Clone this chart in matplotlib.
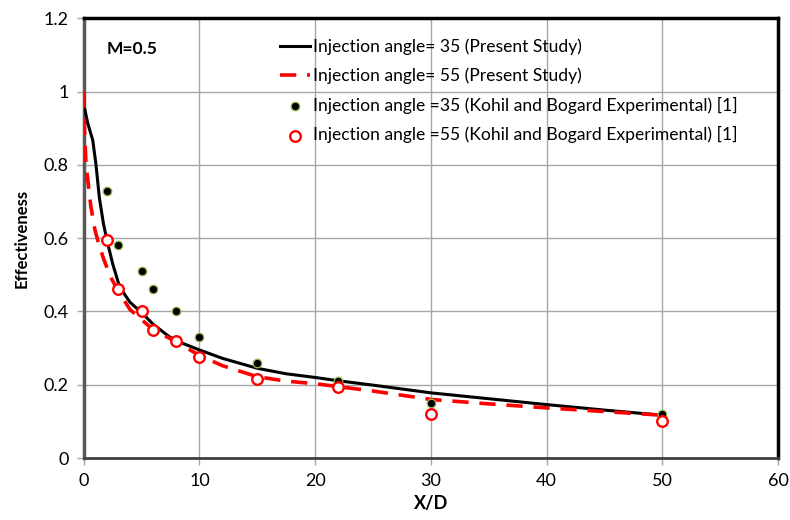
import matplotlib.pyplot as plt

plt.rcParams['font.family'] = ['Lato', 'DejaVu Sans']

# ======================
# Data
# ======================

# present study, injection angle 35
x_35 = [0, 0.35, 0.78, 1.06, 1.35, 1.7, 2.0, 2.5, 3.1, 4.0, 5.0, 6.0, 7.4, 8.0,
        10, 12, 15, 17.5, 20, 22, 25, 30, 35, 40, 45, 50]
eff_35 = [0.965, 0.913, 0.867, 0.80, 0.71, 0.64, 0.595, 0.53, 0.467, 0.425, 0.397,
          0.365, 0.331, 0.32, 0.295, 0.272, 0.245, 0.23, 0.22, 0.211, 0.199,
          0.178, 0.162, 0.146, 0.131, 0.117]

# present study, injection angle 55
x_55 = [0, 0.06, 0.2, 0.6, 0.95, 1.2, 1.7, 2.3, 3.0, 4.0, 5.0, 6.0, 8.0,
        10, 12, 15, 17.5, 20, 22, 25, 30, 35, 40, 45, 50]
eff_55 = [1.0, 0.9, 0.8, 0.69, 0.625, 0.595, 0.545, 0.495, 0.455, 0.405, 0.378,
          0.35, 0.317, 0.28, 0.252, 0.222, 0.21, 0.203, 0.195, 0.183, 0.16,
          0.148, 0.137, 0.127, 0.117]

# Kohli and Bogard experimental
x_exp = [2, 3, 5, 6, 8, 10, 15, 22, 30, 50]
exp_35 = [0.73, 0.58, 0.51, 0.46, 0.40, 0.33, 0.26, 0.21, 0.15, 0.12]
exp_55 = [0.595, 0.46, 0.40, 0.35, 0.32, 0.275, 0.215, 0.193, 0.12, 0.10]

# ======================
# Plot
# ======================

fig = plt.figure(figsize=(7.9, 5.2), dpi=100)
ax = fig.add_axes([0.106, 0.119, 0.879, 0.846])

ax.plot(x_35, eff_35, color="black", linewidth=2.2, solid_joinstyle="round",
        label="Injection angle= 35 (Present Study)", zorder=3)
ax.plot(x_55, eff_55, color="red", linewidth=2.6, dashes=(4.5, 3),
        label="Injection angle= 55 (Present Study)", zorder=3)
ax.scatter(x_exp, exp_35, s=38, color="black", edgecolor="#9bbb59",
           linewidth=0.9, zorder=4,
           label="Injection angle =35 (Kohil and Bogard Experimental) [1]")
ax.scatter(x_exp, exp_55, s=58, facecolor="white", edgecolor="red",
           linewidth=1.7, zorder=5,
           label="Injection angle =55 (Kohil and Bogard Experimental) [1]")

ax.set_xlim(0, 60)
ax.set_ylim(0, 1.2)
ax.set_xticks(range(0, 61, 10))
ax.set_yticks([0, 0.2, 0.4, 0.6, 0.8, 1.0, 1.2])
ax.set_yticklabels(["0", "0.2", "0.4", "0.6", "0.8", "1", "1.2"])

ax.grid(True, color="#a6a6a6", linewidth=1)
ax.set_axisbelow(True)

ax.spines["left"].set_color("#595959")
ax.spines["left"].set_linewidth(2.5)
ax.spines["bottom"].set_color("#404040")
ax.spines["bottom"].set_linewidth(2)
ax.spines["top"].set_linewidth(2.5)
ax.spines["right"].set_linewidth(2.5)

ax.tick_params(axis="both", labelsize=13, color="#a6a6a6",
               length=5, width=1, pad=6)

ax.set_xlabel("X/D", fontsize=13, fontweight="bold", labelpad=4)
ax.set_ylabel("Effectiveness", fontsize=12, fontweight="bold", labelpad=10)

ax.text(2.0, 1.115, "M=0.5", fontsize=12.5, fontweight="bold", va="center")

ax.legend(loc="upper left", bbox_to_anchor=(0.282, 0.954), frameon=False,
          fontsize=12.6, handlelength=1.75, handletextpad=0.15,
          labelspacing=0.72, borderaxespad=0, borderpad=0)

plt.savefig("out.png", dpi=100)
